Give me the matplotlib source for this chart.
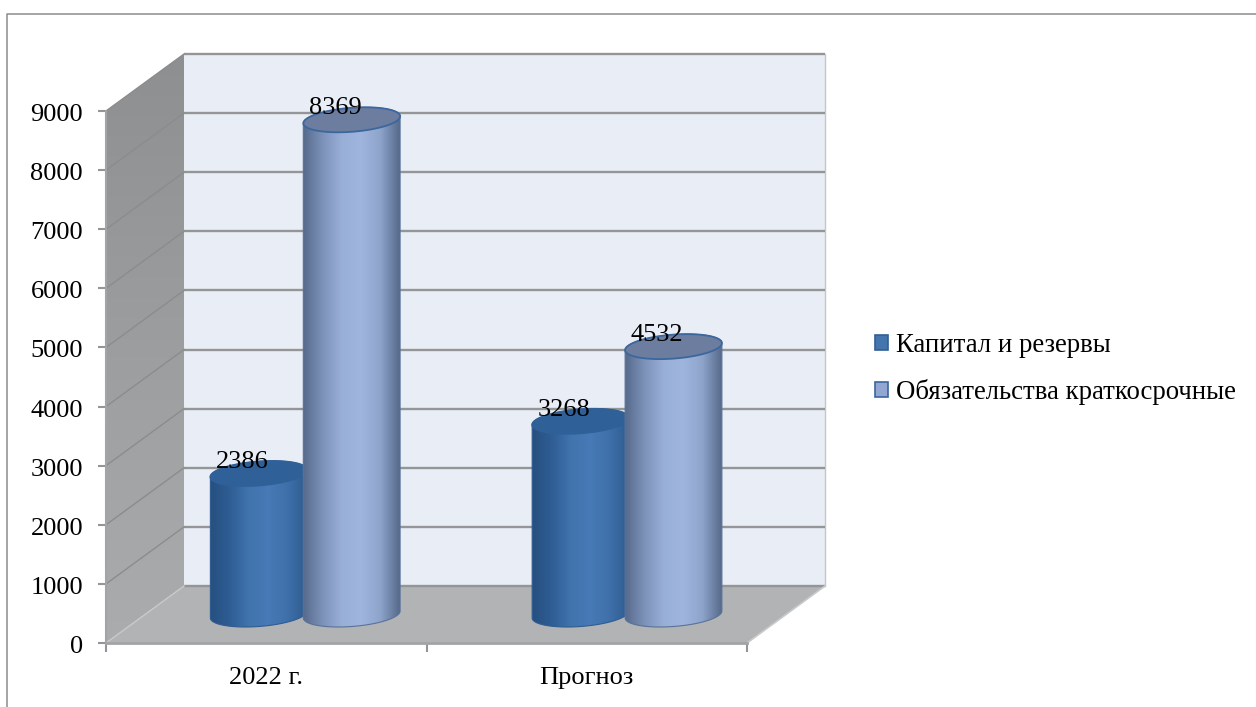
import numpy as np
import matplotlib
matplotlib.use('Agg')
import matplotlib.pyplot as plt
from matplotlib.colors import LinearSegmentedColormap
from matplotlib.lines import Line2D
from matplotlib.patches import Patch, Polygon
from matplotlib.transforms import ScaledTranslation

plt.rcParams['font.family'] = ['Liberation Serif', 'DejaVu Serif']

categories = ['2022 г.', 'Прогноз']
capital = [2386, 3268]
liabilities = [8369, 4532]
y_ticks = [0, 1000, 2000, 3000, 4000, 5000, 6000, 7000, 8000, 9000]
series_names = ['Капитал и резервы', 'Обязательства краткосрочные']

W, H = 1256, 707
AX_L, AX_R, AX_B, AX_T = 106, 747, 643, 111  # pixels of the front plane
YMAX = 9000

# depth of the 3d box, data units per full depth
DX = 78 / (AX_R - AX_L) * 2
DY = 57 / (AX_B - AX_T) * YMAX
FS = 19
GRID = '#949596'


def proj(x, v, d=0.0):
    return x + d * DX, v + d * DY


def grad_fill(ax, pts, colors, vertical=False, z=1):
    """Gradient image clipped with a polygon"""
    pts = np.array(pts)
    cmap = LinearSegmentedColormap.from_list('g', colors)
    g = np.linspace(0, 1, 256)
    g = g.reshape(-1, 1) if vertical else g.reshape(1, -1)
    ext = [pts[:, 0].min(), pts[:, 0].max(), pts[:, 1].min(), pts[:, 1].max()]
    im = ax.imshow(g, cmap=cmap, extent=ext, origin='lower', aspect='auto', zorder=z)
    # the image is cut to the clip box, so it has to be the whole figure here
    im.set_clip_box(ax.figure.bbox)
    clip = Polygon(pts, transform=ax.transData, closed=True)
    im.set_clip_path(clip)


def cylinder(ax, xc, value, width, body, cap, cap_edge, side_edge, z):
    d = 0.5
    rx = width / 2
    ry = 12 / (AX_B - AX_T) * YMAX
    tilt = 3.5 / (AX_B - AX_T) * YMAX
    t = np.linspace(0, 2 * np.pi, 121)
    cx, base = proj(xc, 0, d)
    top = base + value

    # lower half of base, then upper edge along the top
    t1 = np.linspace(np.pi, 2 * np.pi, 60)
    x_low = cx + rx * np.cos(t1)
    y_low = base + ry * np.sin(t1) + tilt * np.cos(t1)
    t2 = np.linspace(0, np.pi, 60)
    x_up = cx + rx * np.cos(t2)
    y_up = top + ry * np.sin(t2) + tilt * np.cos(t2)
    pts = np.column_stack([np.r_[x_low, x_up], np.r_[y_low, y_up]])
    grad_fill(ax, pts, body, z=z)
    ax.add_patch(Polygon(pts, closed=True, fill=False, ec=side_edge, lw=0.8, zorder=z + 0.1, clip_on=False))

    ex = cx + rx * np.cos(t)
    ey = top + ry * np.sin(t) + tilt * np.cos(t)
    ax.fill(ex, ey, fc=cap, ec=cap_edge, lw=1.3, zorder=z + 0.2, clip_on=False)


def main():
    fig = plt.figure(figsize=(W / 100, H / 100), dpi=100)
    ax = fig.add_axes([AX_L / W, 1 - AX_B / H, (AX_R - AX_L) / W, (AX_B - AX_T) / H])

    # outer frame of the picture
    fig.add_artist(Line2D([7 / W, 7 / W, 1], [0, 1 - 14 / H, 1 - 14 / H], color='#8c8c8c', lw=1.1))

    # back wall
    wall = [proj(0, 0, 1), proj(2, 0, 1), proj(2, YMAX, 1), proj(0, YMAX, 1)]
    ax.add_patch(Polygon(wall, closed=True, fc='#e9edf6', ec='none', zorder=1, clip_on=False))
    rx0, ry0 = proj(2, 0, 1)
    rx1, ry1 = proj(2, YMAX, 1)
    ax.plot([rx0, rx1], [ry0, ry1], color='#c4c6c9', lw=1.0, zorder=1.2, clip_on=False)

    # side wall and floor
    side = [proj(0, 0), proj(0, 0, 1), proj(0, YMAX, 1), proj(0, YMAX)]
    grad_fill(ax, side, ['#abacad', '#8e8f90'], vertical=True, z=1)
    floor = [proj(0, 0), proj(2, 0), proj(2, 0, 1), proj(0, 0, 1)]
    ax.add_patch(Polygon(floor, closed=True, fc='#b1b3b5', ec='none', zorder=1.1, clip_on=False))

    # grid on the back wall and on the side wall
    for v in y_ticks:
        x0, y0 = proj(0, v)
        x1, y1 = proj(0, v, 1)
        x2, y2 = proj(2, v, 1)
        ax.plot([x1, x2], [y1, y2], color=GRID, lw=1.7, zorder=1.3, clip_on=False,
                solid_capstyle='butt')
        if v:
            ax.plot([x0, x1], [y0, y1], color='#8b8c8d', lw=1.0, zorder=1.3, clip_on=False)
    # front edge of the floor, right side
    ax.plot([2, rx0], [0, ry0], color='#c8c9cb', lw=1.2, zorder=1.3, clip_on=False)
    ax.plot(*zip(proj(0, 0), proj(0, 0, 1)), color='#c8c9cb', lw=1.0, zorder=1.3, clip_on=False)

    dark_body = ['#25507f', '#2f5d94', '#4173ad', '#477ab6', '#3f70a9', '#2e5b90']
    light_body = ['#566a8c', '#7d92b8', '#98afd8', '#9fb5de', '#8ea4cb', '#56698a']
    width = 0.302
    off = 0.145
    for i in range(len(categories)):
        xc = i + 0.5 + 0.004 * i
        cylinder(ax, xc - off, capital[i], width, dark_body, '#2f6098', '#2f6098', '#2f5c92', 3)
        cylinder(ax, xc + off, liabilities[i], width, light_body, '#6c7d9f', '#3c679d', '#5a7299', 4)
        for x, v in ((xc - off, capital[i]), (xc + off, liabilities[i])):
            px, py = proj(x, v, 0.5)
            ax.annotate(str(v), xy=(px, py), xytext=(-12, 8.5), textcoords='offset points',
                        ha='center', va='center', fontsize=FS, color='black', zorder=6,
                        annotation_clip=False)

    ax.set_xlim(0, 2)
    ax.set_ylim(0, YMAX)
    ax.patch.set_visible(False)
    for s in ('top', 'right'):
        ax.spines[s].set_visible(False)
    ax.spines['left'].set_color('#a3a4a6')
    ax.spines['left'].set_linewidth(1.5)
    ax.spines['bottom'].set_color('#a3a4a6')
    ax.spines['bottom'].set_linewidth(2.0)
    ax.spines['left'].set_zorder(2)
    ax.spines['bottom'].set_zorder(2)

    ax.set_yticks(y_ticks)
    ax.set_xticks([0, 1, 2])
    ax.set_xticklabels([])
    ax.set_xticks([0.5, 1.5], minor=True)
    ax.set_xticklabels(categories, minor=True)
    ax.tick_params(axis='y', length=6, width=1.5, color=GRID, labelsize=FS, pad=10.5)
    ax.tick_params(axis='x', which='major', length=6.5, width=1.5, color=GRID)
    ax.tick_params(axis='x', which='minor', length=0, labelsize=FS, pad=17.5)
    for lab in ax.get_yticklabels():
        lab.set_transform(lab.get_transform() + ScaledTranslation(0, -1.5 / 100, fig.dpi_scale_trans))

    handles = [Patch(fc='#4475ad', ec='#335f94', lw=1.2), Patch(fc='#92a8d2', ec='#3c679d', lw=1.2)]
    ax.legend(handles, series_names, loc='center left', bbox_to_anchor=(875 / W, 1 - 369 / H),
              bbox_transform=fig.transFigure, frameon=False, fontsize=19.3, borderpad=0, borderaxespad=0,
              handlelength=0.5, handleheight=0.5, handletextpad=0.27, labelspacing=0.8)

    fig.savefig('out.png', dpi=100)


if __name__ == '__main__':
    main()
